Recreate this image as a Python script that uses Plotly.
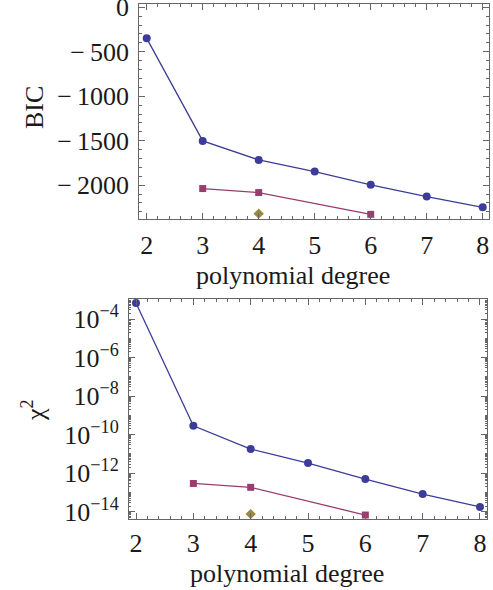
import plotly.graph_objects as go

# ---- data ----
degrees = [2, 3, 4, 5, 6, 7, 8]
bic_blue = [-349, -1502, -1716, -1847, -1996, -2128, -2249]
deg_magenta = [3, 4, 6]
bic_magenta = [-2038, -2083, -2328]
deg_gold = [4]
bic_gold = [-2320]

chi_blue = [6.8e-4, 2.9e-10, 1.8e-11, 3.4e-12, 5.0e-13, 8.3e-14, 1.8e-14]
chi_magenta = [2.95e-13, 1.86e-13, 6.8e-15]
chi_gold = [7.6e-15]

x_ticks = [2, 3, 4, 5, 6, 7, 8]
bic_ticks = [0, -500, -1000, -1500, -2000]
bic_ticktext = ["0", "\u2212\u2009500", "\u2212\u20091000", "\u2212\u20091500", "\u2212\u20092000"]
chi_exps = [-4, -6, -8, -10, -12, -14]

BLUE = "rgb(61,61,153)"
MAG = "rgb(153,61,113)"
GOLD = "rgb(153,139,61)"
FRAME = "#666666"
FONT = "Liberation Serif"
FS = 26

fig = go.Figure()

def add_series(x, y, color, symbol, size, xa, ya, line=True):
    fig.add_trace(go.Scatter(
        x=x, y=y, xaxis=xa, yaxis=ya,
        mode="lines+markers" if line else "markers",
        line=dict(color=color, width=1.3),
        marker=dict(color=color, symbol=symbol, size=size),
        showlegend=False, cliponaxis=False, hoverinfo="skip"))

add_series(degrees, bic_blue, BLUE, "circle", 8, "x", "y")
add_series(deg_magenta, bic_magenta, MAG, "square", 7, "x", "y")
add_series(deg_gold, bic_gold, GOLD, "diamond", 8, "x", "y", line=False)

add_series(degrees, chi_blue, BLUE, "circle", 8, "x2", "y2")
add_series(deg_magenta, chi_magenta, MAG, "square", 7, "x2", "y2")
add_series(deg_gold, chi_gold, GOLD, "diamond", 8, "x2", "y2", line=False)

common = dict(showline=True, linecolor=FRAME, linewidth=1, mirror="allticks",
              ticks="inside", ticklen=6, tickcolor=FRAME, tickwidth=1,
              showgrid=False, zeroline=False, ticklabeloverflow="allow",
              automargin=False,
              tickfont=dict(family=FONT, size=FS, color="#1a1a1a"))

log_minor = []
for n in range(-15, -2):
    for k in range(1, 10):
        v = k * 10.0 ** n
        if k == 1 and n % 2 == 0:
            continue
        log_minor.append(v)

fig.update_layout(
    width=493, height=590,
    margin=dict(l=0, r=0, t=0, b=0, autoexpand=False),
    paper_bgcolor="white", plot_bgcolor="white",
    xaxis=dict(domain=[0.2826, 0.9913], range=[1.868, 8.107], anchor="y",
               tickmode="array", tickvals=x_ticks, ticktext=[str(v) for v in x_ticks],
               minor=dict(ticks="inside", ticklen=3, dtick=0.2, tick0=2, tickcolor=FRAME),
               ticklabelstandoff=3, **common),
    yaxis=dict(domain=[0.6293, 0.9932], range=[-2377, 37], anchor="x",
               tickmode="array", tickvals=bic_ticks, ticktext=bic_ticktext,
               minor=dict(ticks="inside", ticklen=3, dtick=100, tick0=0, tickcolor=FRAME),
               ticklabelstandoff=4, **common),
    xaxis2=dict(domain=[0.2617, 0.9884], range=[1.878, 8.127], anchor="y2",
                tickmode="array", tickvals=x_ticks, ticktext=[str(v) for v in x_ticks],
                minor=dict(ticks="inside", ticklen=3, dtick=0.2, tick0=2, tickcolor=FRAME),
                ticklabelstandoff=0, **common),
    yaxis2=dict(domain=[0.1198, 0.4932], range=[-14.39, -2.96], anchor="x2", type="log",
                tickmode="array", tickvals=[10.0 ** e for e in chi_exps],
                ticktext=["10<sup>\u2212%d</sup>" % (-e) for e in chi_exps],
                minor=dict(ticks="inside", ticklen=2, tickmode="array", tickvals=log_minor,
                           tickcolor=FRAME),
                ticklabelstandoff=4, **common),
)

ann_font = dict(family=FONT, size=26, color="#1a1a1a")

def pann(text, px, py, angle=0):
    fig.add_annotation(text=text, x=px / 493, y=1 - py / 590, xref="paper", yref="paper",
                       showarrow=False, textangle=angle, font=ann_font,
                       xanchor="center", yanchor="middle")

pann("BIC", 34, 108, -90)
pann("polynomial degree", 293, 275)
pann("\u03c7<sup>2</sup>", 33, 410, -90)
pann("polynomial degree", 287, 573)

fig.write_html("out.html", config={"displayModeBar": False},
               post_script="document.body.style.margin='0';document.body.style.overflow='hidden';")
